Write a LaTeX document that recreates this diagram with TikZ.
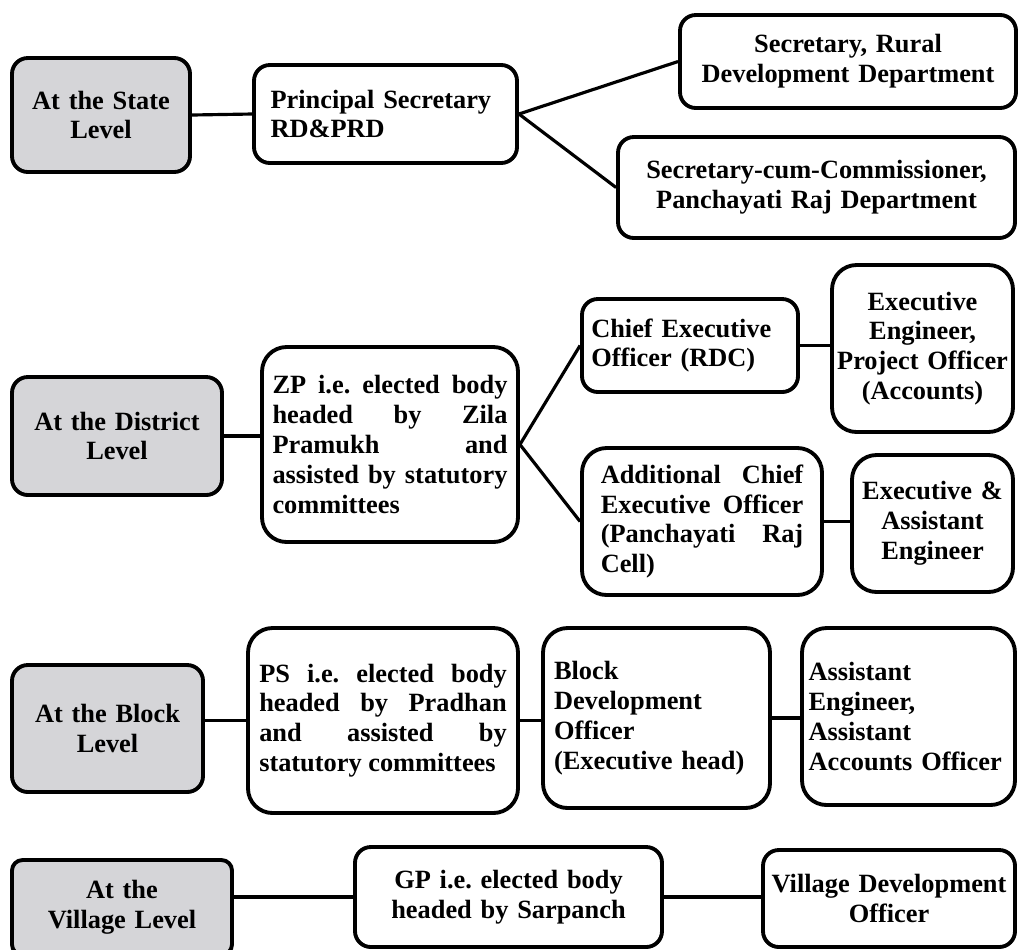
\documentclass[tikz,border=0pt]{standalone}
\usepackage{fontspec}
\setmainfont{Liberation Serif}
\definecolor{levelgray}{RGB}{213,213,216}
\frenchspacing
\hyphenpenalty=10000
\exhyphenpenalty=10000

\begin{document}
\begin{tikzpicture}[line width=1.8pt, font=\fontsize{15}{17}\selectfont\bfseries]
    \tikzstyle{box}=[draw, line width=2.2pt, rounded corners=9pt, fill=white, inner sep=0pt]
    \tikzstyle{level}=[box, fill=levelgray, align=center]
    \tikzstyle{office}=[box, align=center]
    \tikzstyle{office left}=[box, align=left]
    \tikzstyle{office just}=[box, align=justify, rounded corners=14pt]

    \useasboundingbox (0,0) rectangle (20.36,-18.98);

    % Draw the state level nodes
    \node[level, minimum width=3.56cm, minimum height=2.28cm, text width=3.3cm] (state) at (2.02,-2.30) {At the State\\Level};
    \node[office left, minimum width=5.26cm, minimum height=1.96cm, text width=4.6cm] (prinsec) at (7.71,-2.28) {Principal Secretary\\RD\&PRD};
    \node[office, minimum width=6.72cm, minimum height=1.86cm, text width=6.4cm] (secrural) at (16.96,-1.23) {Secretary, Rural\\Development Department};
    \node[office, minimum width=7.94cm, minimum height=2.02cm, text width=7.6cm] (seccomm) at (16.33,-3.75) {Secretary-cum-Commissioner,\\Panchayati Raj Department};

    % Draw the district level nodes
    \node[level, minimum width=4.2cm, minimum height=2.36cm, text width=3.9cm] (district) at (2.34,-8.72) {At the District\\Level};
    \node[office just, minimum width=5.12cm, minimum height=3.9cm, text width=4.7cm] (zp) at (7.80,-8.89)
        {ZP i.e. elected body\linebreak headed by Zila\linebreak Pramukh and\linebreak assisted by statutory\linebreak committees};
    \node[office left, minimum width=4.32cm, minimum height=1.86cm, text width=3.95cm] (ceo) at (13.80,-6.91) {Chief Executive\\Officer (RDC)};
    \node[office, rounded corners=14pt, minimum width=3.62cm, minimum height=3.34cm, text width=3.5cm] (exeng) at (18.45,-6.97) {Executive\\Engineer,\\Project Officer\\(Accounts)};
    \node[office just, minimum width=4.8cm, minimum height=2.94cm, text width=4.05cm] (addceo) at (14.04,-10.43)
        {Additional Chief\linebreak Executive Officer\linebreak (Panchayati Raj\linebreak Cell)};
    \node[office, rounded corners=14pt, minimum width=3.22cm, minimum height=2.74cm, text width=3.1cm] (exasst) at (18.65,-10.47) {Executive \&\\Assistant\\Engineer};

    % Draw the block level nodes
    \node[level, minimum width=3.82cm, minimum height=2.54cm, text width=3.5cm] (block) at (2.15,-14.57) {At the Block\\Level};
    \node[office just, minimum width=5.4cm, minimum height=3.7cm, text width=4.95cm] (ps) at (7.66,-14.41)
        {PS i.e. elected body\linebreak headed by Pradhan\linebreak and assisted by\linebreak statutory committees};
    \node[office left, rounded corners=14pt, minimum width=4.54cm, minimum height=3.6cm, text width=4.1cm] (bdo) at (13.13,-14.36) {Block\\Development\\Officer\\(Executive head)};
    \node[office left, rounded corners=14pt, minimum width=4.26cm, minimum height=3.54cm, text width=4.0cm] (ae) at (18.17,-14.33) {Assistant\\Engineer,\\Assistant\\Accounts Officer};

    % Draw the village level nodes
    \node[level, rounded corners=6pt, minimum width=4.4cm, minimum height=1.9cm, text width=4.1cm] (village) at (2.44,-18.15) {At the\\Village Level};
    \node[office, minimum width=6.14cm, minimum height=2.0cm, text width=5.8cm] (gp) at (10.17,-17.94) {GP i.e. elected body\\headed by Sarpanch};
    \node[office, minimum width=5.04cm, minimum height=1.94cm, text width=4.9cm] (vdo) at (17.78,-17.97) {Village Development\\Officer};

    % Connect the levels with their offices
    \draw (state.east) -- (prinsec.west);
    \draw (prinsec.east) -- (secrural.west);
    \draw (prinsec.east) -- (seccomm.west);

    \draw (district.east) -- (district.east -| zp.west);
    \foreach \dest in {ceo,addceo}
        \draw (zp.east) -- (\dest.west);
    \draw (ceo.east) -- (ceo.east -| exeng.west);
    \draw (addceo.east) -- (addceo.east -| exasst.west);

    \draw (ps.west -| block.east) -- (ps.west);
    \draw (ps.east) -- (ps.east -| bdo.west);
    \draw (bdo.east) -- (bdo.east -| ae.west);

    \draw (gp.west -| village.east) -- (gp.west);
    \draw (gp.east) -- (gp.east -| vdo.west);

\end{tikzpicture}
\end{document}
